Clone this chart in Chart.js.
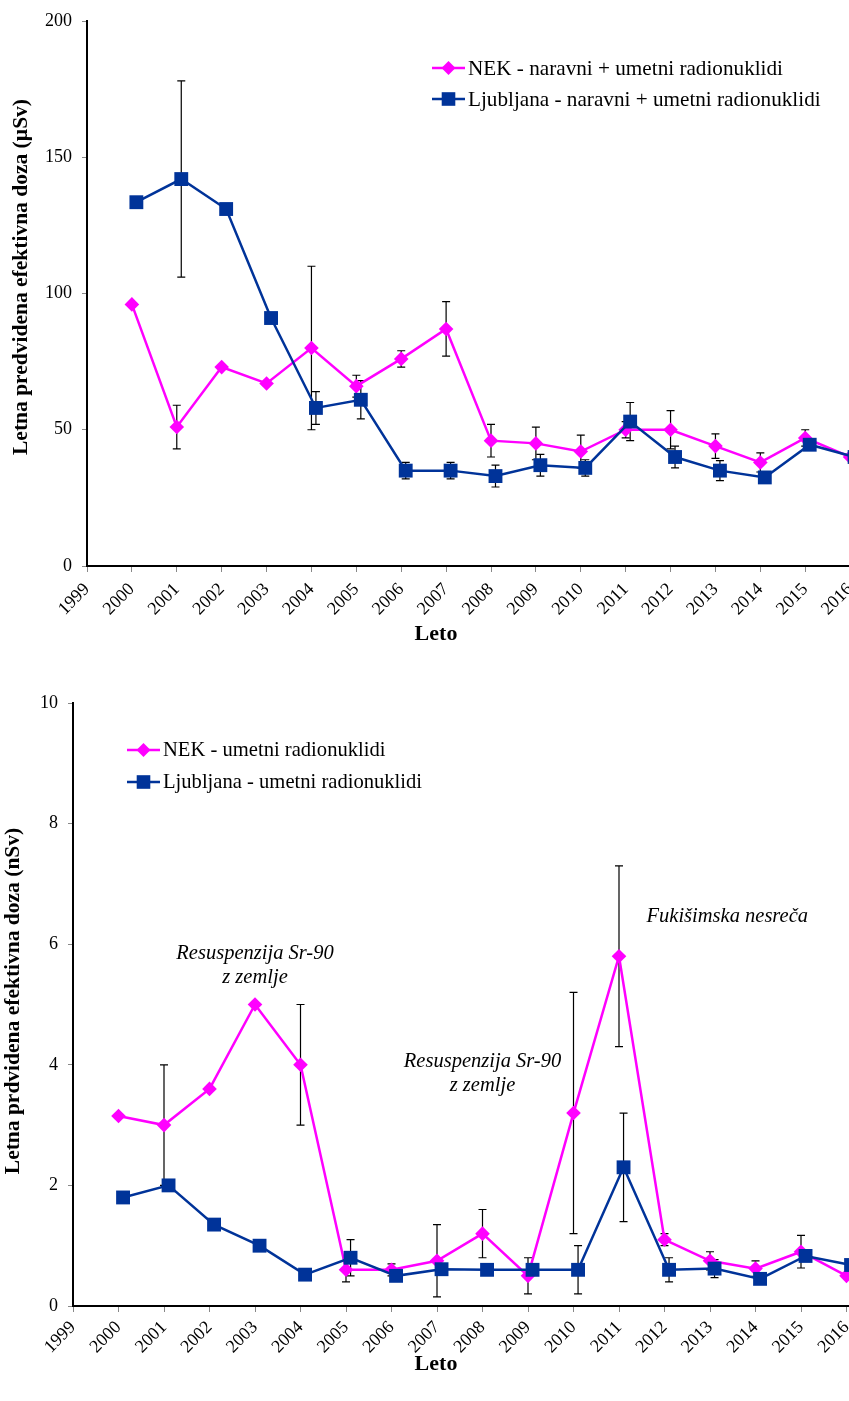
<!DOCTYPE html>
<html><head><meta charset="utf-8">
<script src="https://cdn.jsdelivr.net/npm/chart.js@4.4.1/dist/chart.umd.min.js"></script>
<style>
html,body{margin:0;padding:0;background:#fff;overflow:hidden;}
#wrap{position:relative;width:849px;height:1401px;overflow:hidden;background:#fff;}
canvas{position:absolute;left:0;}
</style></head><body>
<div id="wrap">
<canvas id="c1" width="920" height="660" style="top:0px"></canvas>
<canvas id="c2" width="920" height="721" style="top:680px"></canvas>
</div>
<script>
// ---- data ----
const years = [2000,2001,2002,2003,2004,2005,2006,2007,2008,2009,2010,2011,2012,2013,2014,2015,2016];
const topNek    = [96, 51, 73, 67, 80, 66, 76, 87, 46, 45, 42, 50, 50, 44, 38, 47, 40];
const topNekErr = [null, 8, null, null, 30, 4, 3, 10, 6, 6, 6, 3, 7, 4.5, 3.5, 3, null];
const topLj     = [133.5, 142, 131, 91, 58, 61, 35, 35, 33, 37, 36, 53, 40, 35, 32.5, 44.5, 40];
const topLjErr  = [null, 36, null, null, 6, 7, 3, 3, 4, 4, 3, 7, 4, 3.7, null, null, null];
const botNek    = [3.15, 3.0, 3.6, 5.0, 4.0, 0.6, 0.6, 0.75, 1.2, 0.5, 3.2, 5.8, 1.1, 0.75, 0.62, 0.9, 0.5];
const botNekErr = [null, 1.0, null, null, 1.0, 0.2, 0.1, 0.6, 0.4, 0.3, 2.0, 1.5, 0.1, 0.15, 0.13, 0.27, null];
const botLj     = [1.8, 2.0, 1.35, 1.0, 0.52, 0.8, 0.5, 0.61, 0.6, 0.6, 0.6, 2.3, 0.6, 0.62, 0.45, 0.83, 0.68];
const botLjErr  = [null, null, null, null, null, 0.3, null, null, null, null, 0.4, 0.9, 0.2, 0.15, null, null, null];
const topLabels = ['NEK - naravni + umetni radionuklidi', 'Ljubljana - naravni + umetni radionuklidi'];
const botLabels = ['NEK - umetni radionuklidi', 'Ljubljana - umetni radionuklidi'];
const topYTitle = 'Letna predvidena efektivna doza (µSv)';
const botYTitle = 'Letna prdvidena efektivna doza (nSv)';
const xTitle = 'Leto';
const notes = [
  {x: 2003, y: 5.85, lines: ['Resuspenzija Sr-90', 'z zemlje']},
  {x: 2008, y: 4.06, lines: ['Resuspenzija Sr-90', 'z zemlje']},
  {x: 2013.38, y: 6.45, lines: ['Fukišimska nesreča']}
];

const MAG = '#FF00FF', BLUE = '#003399';
const SERIF = '"Liberation Serif", "Times New Roman", serif';
const LJ_SHIFT = 0.1;

function pts(vals, shift) { return vals.map((v, i) => ({x: years[i] + shift, y: v})); }

function drawMarker(ctx, kind, x, y) {
  ctx.save();
  if (kind === 'd') {
    ctx.fillStyle = MAG;
    ctx.beginPath();
    ctx.moveTo(x, y - 7); ctx.lineTo(x + 7, y); ctx.lineTo(x, y + 7); ctx.lineTo(x - 7, y); ctx.closePath();
    ctx.fill();
  } else {
    ctx.fillStyle = BLUE;
    ctx.fillRect(x - 6.8, y - 6.8, 13.6, 13.6);
  }
  ctx.restore();
}

function overlay(o) {
  return {
    id: 'overlay',
    beforeDatasetsDraw(chart) {
      const {ctx} = chart, xs = chart.scales.x, ys = chart.scales.y;
      ctx.save();
      ctx.strokeStyle = '#000'; ctx.lineWidth = 1.2;
      o.errors.forEach(e => {
        e.vals.forEach((v, i) => {
          const err = e.err[i];
          if (err == null) return;
          const px = xs.getPixelForValue(years[i] + e.shift);
          const y1 = ys.getPixelForValue(v + err), y2 = ys.getPixelForValue(v - err);
          ctx.beginPath();
          ctx.moveTo(px, y1); ctx.lineTo(px, y2);
          ctx.moveTo(px - 4, y1); ctx.lineTo(px + 4, y1);
          ctx.moveTo(px - 4, y2); ctx.lineTo(px + 4, y2);
          ctx.stroke();
        });
      });
      ctx.restore();
    },
    afterDraw(chart) {
      const {ctx} = chart, xs = chart.scales.x, ys = chart.scales.y;
      ctx.save();
      // legend
      const L = o.legend;
      ctx.font = L.size + 'px ' + SERIF; ctx.fillStyle = '#000'; ctx.textBaseline = 'middle'; ctx.textAlign = 'left';
      o.labels.forEach((lab, i) => {
        const yy = L.y + i * L.dy;
        ctx.strokeStyle = i === 0 ? MAG : BLUE; ctx.lineWidth = 2.5;
        ctx.beginPath(); ctx.moveTo(L.x, yy); ctx.lineTo(L.x + 33, yy); ctx.stroke();
        drawMarker(ctx, i === 0 ? 'd' : 's', L.x + 16.5, yy);
        ctx.fillStyle = '#000';
        ctx.fillText(lab, L.x + 36, yy + 1);
      });
      // y title
      ctx.font = 'bold 21.5px ' + SERIF; ctx.textAlign = 'center';
      ctx.save(); ctx.translate(o.yTitle.x, o.yTitle.y); ctx.rotate(-Math.PI / 2);
      ctx.fillText(o.yTitle.text, 0, 0); ctx.restore();
      // x title
      ctx.font = 'bold 22px ' + SERIF;
      ctx.fillText(xTitle, o.xTitle.x, o.xTitle.y);
      // notes
      if (o.notes) {
        ctx.font = 'italic 20.5px ' + SERIF;
        o.notes.forEach(n => {
          const px = xs.getPixelForValue(n.x), py = ys.getPixelForValue(n.y);
          n.lines.forEach((t, k) => ctx.fillText(t, px, py + k * 24));
        });
      }
      ctx.restore();
    }
  };
}

function makeChart(id, cfg) {
  return new Chart(document.getElementById(id), {
    type: 'line',
    data: {
      datasets: [
        {label: cfg.labels[1], data: pts(cfg.lj, LJ_SHIFT), borderColor: BLUE, backgroundColor: BLUE,
         borderWidth: 2.5, pointStyle: 'rect', pointRadius: 9.8, pointBorderWidth: 0, order: 0, tension: 0},
        {label: cfg.labels[0], data: pts(cfg.nek, 0), borderColor: MAG, backgroundColor: MAG,
         borderWidth: 2.5, pointStyle: 'rectRot', pointRadius: 7.3, pointBorderWidth: 0, order: 1, tension: 0}
      ]
    },
    options: {
      responsive: false, animation: false, devicePixelRatio: 1,
      layout: {padding: cfg.pad},
      plugins: {legend: {display: false}, tooltip: {enabled: false}},
      scales: {
        x: {
          type: 'linear', min: 1999, max: 2017,
          afterFit: s => { s.height = cfg.xH; },
          ticks: {stepSize: 1, autoSkip: false, maxRotation: 45, minRotation: 45, padding: cfg.xPad, color: '#000',
                  font: {family: SERIF, size: 18}, callback: v => String(v)},
          grid: {drawOnChartArea: false, drawTicks: true, tickLength: 6, color: '#888'},
          border: {display: true, color: '#000', width: 2}
        },
        y: {
          min: 0, max: cfg.yMax,
          afterFit: s => { s.width = cfg.yW; },
          ticks: {stepSize: cfg.yStep, padding: 10, color: '#000', font: {family: SERIF, size: 18}},
          grid: {drawOnChartArea: false, drawTicks: true, tickLength: 5, color: '#888'},
          border: {display: true, color: '#000', width: 2}
        }
      }
    },
    plugins: [overlay({
      errors: [
        {vals: cfg.nek, err: cfg.nekErr, shift: 0},
        {vals: cfg.lj, err: cfg.ljErr, shift: LJ_SHIFT}
      ],
      labels: cfg.labels, legend: cfg.legend, yTitle: cfg.yTitle, xTitle: cfg.xTitle, notes: cfg.notes
    })]
  });
}

makeChart('c1', {
  nek: topNek, nekErr: topNekErr, lj: topLj, ljErr: topLjErr, labels: topLabels,
  pad: {top: 21, right: 25, left: 0, bottom: 0}, xH: 94, yW: 87, yMax: 200, yStep: 50, xPad: 7,
  legend: {x: 432, y: 68, dy: 31, size: 21.2},
  yTitle: {x: 21, y: 277, text: topYTitle}, xTitle: {x: 436, y: 634}
});
makeChart('c2', {
  nek: botNek, nekErr: botNekErr, lj: botLj, ljErr: botLjErr, labels: botLabels,
  pad: {top: 23, right: 28, left: 0, bottom: 0}, xH: 95, yW: 73, yMax: 10, yStep: 2, xPad: 5,
  legend: {x: 127, y: 70, dy: 32, size: 20.6},
  yTitle: {x: 13, y: 321, text: botYTitle}, xTitle: {x: 436, y: 684},
  notes: notes
});
</script>
</body></html>
